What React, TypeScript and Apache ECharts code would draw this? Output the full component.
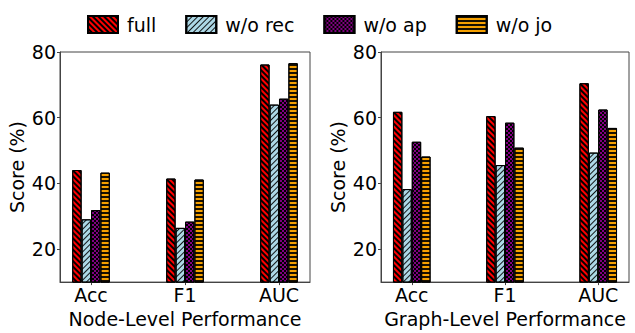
import React, { useEffect, useRef } from "react";
import * as echarts from "echarts";

const categories = ["Acc", "F1", "AUC"];
const seriesNames = ["full", "w/o rec", "w/o ap", "w/o jo"];
const yTicks = [20, 40, 60, 80];

// Node-level values
const nodeFull = [44.1, 41.5, 76.2];
const nodeRec = [29.1, 26.5, 64.0];
const nodeAp = [31.9, 28.4, 65.8];
const nodeJo = [43.3, 41.2, 76.6];

// Graph-level values
const graphFull = [61.8, 60.5, 70.5];
const graphRec = [38.3, 45.6, 49.4];
const graphAp = [52.7, 58.5, 62.5];
const graphJo = [48.2, 50.9, 56.9];

const FONT = "DejaVu Sans";

const styles = [
  {
    color: "#ff0000",
    decal: {
      symbol: "rect",
      symbolSize: 1,
      color: "#000",
      dashArrayX: [1, 0],
      dashArrayY: [1.3, 1.5],
      rotation: Math.PI / 4,
    },
  },
  {
    color: "#add8e6",
    decal: {
      symbol: "rect",
      symbolSize: 1,
      color: "rgba(0,0,0,0.9)",
      dashArrayX: [1, 0],
      dashArrayY: [1, 2.4],
      rotation: -Math.PI / 4,
    },
  },
  {
    color: "#800080",
    decal: {
      symbol: "rect",
      symbolSize: 1,
      color: "#000",
      dashArrayX: [
        [1.5, 1.5],
        [0, 1.5, 1.5, 0],
      ],
      dashArrayY: [1.5, 0],
      rotation: 0,
    },
  },
  {
    color: "#f5a000",
    decal: {
      symbol: "rect",
      symbolSize: 1,
      color: "rgba(0,0,0,0.9)",
      dashArrayX: [1, 0],
      dashArrayY: [1.2, 1.4],
      rotation: 0,
    },
  },
];

function makeXAxis(gridIndex: number, name: string) {
  return {
    type: "value",
    gridIndex,
    min: -0.33,
    max: 2.33,
    name,
    nameLocation: "middle",
    nameGap: 25,
    nameTextStyle: { fontFamily: FONT, fontSize: 19, color: "#000" },
    axisLine: { show: true, onZero: false, lineStyle: { color: "#444", width: 1 } },
    axisTick: {
      show: true,
      customValues: [0, 1, 2],
      length: 3,
      lineStyle: { color: "#444" },
    },
    axisLabel: {
      customValues: [0, 1, 2],
      formatter: (v: number) => categories[Math.round(v)] ?? "",
      fontFamily: FONT,
      fontSize: 19,
      color: "#000",
      margin: 3,
    },
    splitLine: { show: false },
  };
}

function makeYAxis(gridIndex: number) {
  return {
    type: "value",
    gridIndex,
    min: 10,
    max: 80,
    name: "Score (%)",
    nameLocation: "middle",
    nameGap: 34,
    nameTextStyle: { fontFamily: FONT, fontSize: 19, color: "#000" },
    axisLine: { show: true, onZero: false, lineStyle: { color: "#444", width: 1 } },
    axisTick: {
      show: true,
      customValues: yTicks,
      length: 3,
      lineStyle: { color: "#444" },
    },
    axisLabel: {
      customValues: yTicks,
      fontFamily: FONT,
      fontSize: 19,
      color: "#000",
      margin: 4,
    },
    splitLine: { show: false },
  };
}

export default function App() {
  const ref = useRef<HTMLDivElement>(null);
  useEffect(() => {
    document.body.style.margin = "0";
    if (!ref.current) return;
    const chart = echarts.init(ref.current, null, { renderer: "svg" });
    const nodeData = [nodeFull, nodeRec, nodeAp, nodeJo];
    const graphData = [graphFull, graphRec, graphAp, graphJo];
    const series: any[] = [];
    [nodeData, graphData].forEach((group, gi) => {
      group.forEach((vals, si) => {
        series.push({
          type: "bar",
          name: seriesNames[si],
          xAxisIndex: gi,
          yAxisIndex: gi,
          barWidth: 9.4,
          barGap: "0%",
          data: vals.map((v, i) => [i, v]),
          itemStyle: {
            color: styles[si].color,
            decal: styles[si].decal,
            borderColor: "#000",
            borderWidth: 1,
          },
        });
      });
    });
    chart.setOption({
      animation: false,
      backgroundColor: "#fff",
      legend: {
        data: seriesNames,
        left: 82,
        top: 10,
        itemWidth: 30,
        itemHeight: 17,
        itemGap: 29,
        icon: "rect",
        textStyle: { fontFamily: FONT, fontSize: 19, color: "#000", padding: [0, 0, 0, 4] },
      },
      grid: [
        { left: 60, top: 52, width: 250, height: 234, show: true, borderColor: "#444", borderWidth: 1 },
        { left: 381, top: 52, width: 248, height: 234, show: true, borderColor: "#444", borderWidth: 1 },
      ],
      xAxis: [makeXAxis(0, "Node-Level Performance"), makeXAxis(1, "Graph-Level Performance")],
      yAxis: [makeYAxis(0), makeYAxis(1)],
      series,
    });
    return () => chart.dispose();
  }, []);
  return <div ref={ref} style={{ width: 635, height: 333 }} />;
}
